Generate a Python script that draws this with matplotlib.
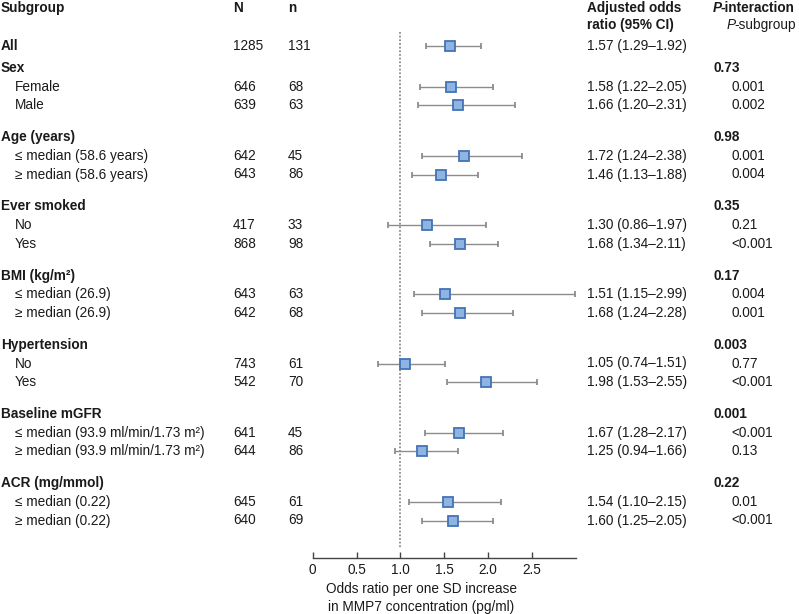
import matplotlib
matplotlib.use('Agg')
import matplotlib.pyplot as plt

# ---------------- data ----------------
groups = ["Sex", "Age (years)", "Ever smoked", "BMI (kg/m²)", "Hypertension",
          "Baseline mGFR", "ACR (mg/mmol)"]
sub_labels = [["Female", "Male"],
              ["≤ median (58.6 years)", "≥ median (58.6 years)"],
              ["No", "Yes"],
              ["≤ median (26.9)", "≥ median (26.9)"],
              ["No", "Yes"],
              ["≤ median (93.9 ml/min/1.73 m²)", "≥ median (93.9 ml/min/1.73 m²)"],
              ["≤ median (0.22)", "≥ median (0.22)"]]
N_all, n_all = 1285, 131
or_all, lo_all, hi_all = 1.57, 1.29, 1.92
N_sub = [[646, 639], [642, 643], [417, 868], [643, 642], [743, 542], [641, 644], [645, 640]]
n_sub = [[68, 63], [45, 86], [33, 98], [63, 68], [61, 70], [45, 86], [61, 69]]
OR = [[1.58, 1.66], [1.72, 1.46], [1.30, 1.68], [1.51, 1.68], [1.05, 1.98], [1.67, 1.25], [1.54, 1.60]]
LO = [[1.22, 1.20], [1.24, 1.13], [0.86, 1.34], [1.15, 1.24], [0.74, 1.53], [1.28, 0.94], [1.10, 1.25]]
HI = [[2.05, 2.31], [2.38, 1.88], [1.97, 2.11], [2.99, 2.28], [1.51, 2.55], [2.17, 1.66], [2.15, 2.05]]
p_int = ["0.73", "0.98", "0.35", "0.17", "0.003", "0.001", "0.22"]
p_sub = [["0.001", "0.002"], ["0.001", "0.004"], ["0.21", "<0.001"], ["0.004", "0.001"],
         ["0.77", "<0.001"], ["<0.001", "0.13"], ["0.01", "<0.001"]]
xticks = [0, 0.5, 1.0, 1.5, 2.0, 2.5]
xticklabels = ["0", "0.5", "1.0", "1.5", "2.0", "2.5"]

# ---------------- style ----------------
FAM = ['Liberation Sans', 'DejaVu Sans']
plt.rcParams['font.family'] = FAM
FS = 9.8
TXT = '#1a1a1a'
W, H = 799, 614

fig = plt.figure(figsize=(W / 100, H / 100), dpi=100)
tax = fig.add_axes([0, 0, 1, 1])
tax.set_xlim(0, W)
tax.set_ylim(H, 0)
tax.axis('off')

# forest axes, data-y in pixel rows
axis_y = 557.5
x0_px, x1_px = 312.7, 576.0
ax = fig.add_axes([x0_px / W, (H - axis_y) / H, (x1_px - x0_px) / W, axis_y / H])
ax.set_xlim(0, 3.0)
ax.set_ylim(axis_y, 0)
ax.patch.set_alpha(0)
for s in ['left', 'top', 'right']:
    ax.spines[s].set_visible(False)
ax.spines['bottom'].set_color('#444444')
ax.spines['bottom'].set_linewidth(1.0)
ax.set_yticks([])
ax.set_xticks(xticks)
ax.set_xticklabels(xticklabels, fontsize=FS, color=TXT)
ax.tick_params(axis='x', direction='in', length=4.5, width=1.0, color='#444444', pad=4)

# column positions
X_LAB, X_IND, X_N, X_n, X_OR, X_PI, X_PS = 0, 15, 233, 288, 587, 714, 731

def t(x, y, s, bold=False, italic=False, ha='left'):
    return tax.text(x, y, s, fontsize=FS, color=TXT, ha=ha, va='center',
                    fontweight='bold' if bold else 'normal',
                    fontstyle='italic' if italic else 'normal')

renderer = fig.canvas.get_renderer()

def t_seq(x, y, parts, adjust=-1.5):
    for s, b, i in parts:
        tt = t(x, y, s, bold=b, italic=i)
        bb = tt.get_window_extent(renderer=renderer)
        x += bb.width + (adjust if i else 0)

# header
t(1, 8, "Subgroup", bold=True)
t(X_N, 8, "N", bold=True)
t(X_n, 8, "n", bold=True)
t(X_OR, 8, "Adjusted odds", bold=True)
t(X_OR, 25, "ratio (95% CI)", bold=True)
t_seq(713, 8, [("P", True, True), ("-interaction", True, False)])
t_seq(727, 25, [("P", False, True), ("-subgroup", False, False)])

mk = dict(fmt='s', ms=7.2, mfc='#8EB4E3', mec='#4473B4', mew=1.3,
          ecolor='#8c8c8c', elinewidth=1.0, capsize=2.2, capthick=0.8)

def ci_text(o, l, h):
    return f"{o:.2f} ({l:.2f}–{h:.2f})"

# All row
y = 46
t(1, y, "All", bold=True)
t(X_N, y, str(N_all))
t(X_n, y, str(n_all))
t(X_OR, y, ci_text(or_all, lo_all, hi_all))
ax.errorbar([or_all], [y], xerr=[[or_all - lo_all], [hi_all - or_all]], **mk)

# groups
y_first, g_step, r_step1, r_step2 = 68, 69.2, 18.7, 37.3
for gi, g in enumerate(groups):
    yh = y_first + gi * g_step
    t(1, yh, g, bold=True)
    t(X_PI, yh, p_int[gi], bold=True)
    for ri in range(2):
        yr = yh + (r_step1 if ri == 0 else r_step2)
        t(X_IND, yr, sub_labels[gi][ri])
        t(X_N, yr, str(N_sub[gi][ri]))
        t(X_n, yr, str(n_sub[gi][ri]))
        o, l, h = OR[gi][ri], LO[gi][ri], HI[gi][ri]
        t(X_OR, yr, ci_text(o, l, h))
        t(X_PS, yr, p_sub[gi][ri])
        ax.errorbar([o], [yr], xerr=[[o - l], [h - o]], **mk)

# reference line
ax.plot([1, 1], [32, 548], color='#7a7a7a', lw=1.1, ls=(0, (1.2, 1.2)), zorder=0)

# x label
t(421.5, 589.5, "Odds ratio per one SD increase", ha='center')
t(421.5, 607, "in MMP7 concentration (pg/ml)", ha='center')

fig.savefig('out.png', dpi=100)
